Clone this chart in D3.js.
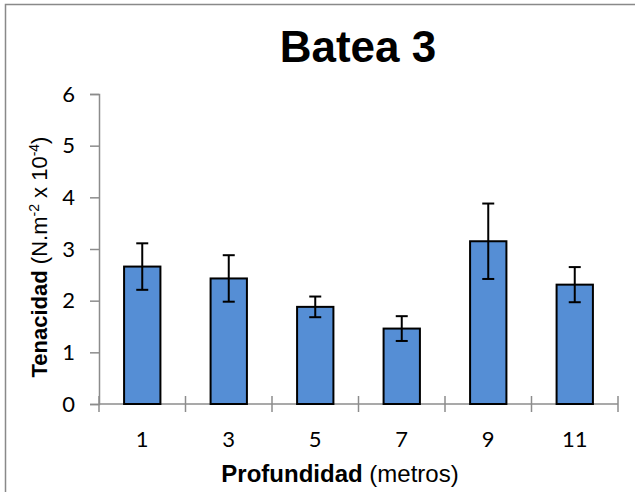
<!DOCTYPE html>
<html>
<head>
<meta charset="utf-8">
<script src="https://cdn.jsdelivr.net/npm/d3@7"></script>
<style>
  html, body { margin: 0; padding: 0; background: #fff; }
  svg { display: block; }
</style>
</head>
<body>
<div id="chart"></div>
<script>
const depths = ["1", "3", "5", "7", "9", "11"];
const means = [2.66, 2.43, 1.88, 1.46, 3.15, 2.31];
const errors = [0.45, 0.45, 0.2, 0.24, 0.73, 0.34];
const yTicks = [0, 1, 2, 3, 4, 5, 6];

const W = 635, H = 492;
const plot = { left: 99, right: 618, top: 94, bottom: 404 };

const svg = d3.select("#chart").append("svg")
    .attr("width", W)
    .attr("height", H);

// outer chart border (right/bottom fall outside the frame)
svg.append("rect")
    .attr("x", 5.5).attr("y", 4.5)
    .attr("width", W + 10).attr("height", H + 10)
    .attr("fill", "none")
    .attr("stroke", "#898989")
    .attr("stroke-width", 1.5);

const x = d3.scaleBand()
    .domain(depths)
    .range([plot.left, plot.right])
    .paddingInner(0.58)
    .paddingOuter(0.29);

const y = d3.scaleLinear()
    .domain([0, 6])
    .range([plot.bottom, plot.top]);

const axisColor = "#8c8c8c";
const tickFont = "Lato, 'Open Sans', sans-serif";
const labelFont = "'Liberation Sans', Arial, sans-serif";

// y axis
const yAxis = svg.append("g")
    .attr("transform", `translate(${plot.left},0)`)
    .call(d3.axisLeft(y).tickValues(yTicks).tickFormat(d3.format("d")).tickSize(9).tickPadding(15));
yAxis.select(".domain").attr("stroke", axisColor).attr("stroke-width", 1.5);
yAxis.selectAll(".tick line").attr("stroke", axisColor).attr("stroke-width", 1.5);
yAxis.selectAll(".tick text")
    .attr("font-family", tickFont)
    .attr("font-size", 22)
    .attr("fill", "#000");

// x axis: ticks at category boundaries, crossing the axis line
const step = x.step();
const bounds = d3.range(depths.length + 1).map(i => plot.left + i * step);
const xg = svg.append("g");
xg.append("line")
    .attr("x1", plot.left).attr("x2", plot.right)
    .attr("y1", plot.bottom).attr("y2", plot.bottom)
    .attr("stroke", axisColor).attr("stroke-width", 1.5);
xg.selectAll("line.tk")
    .data(bounds)
    .join("line")
    .attr("class", "tk")
    .attr("x1", d => d).attr("x2", d => d)
    .attr("y1", plot.bottom - 8).attr("y2", plot.bottom + 8)
    .attr("stroke", axisColor).attr("stroke-width", 1.5);
xg.selectAll("text")
    .data(depths)
    .join("text")
    .attr("x", d => x(d) + x.bandwidth() / 2)
    .attr("y", 447)
    .attr("text-anchor", "middle")
    .attr("font-family", tickFont)
    .attr("font-size", 22)
    .text(d => d);

// bars
svg.append("g")
    .selectAll("rect")
    .data(depths)
    .join("rect")
    .attr("x", d => x(d))
    .attr("y", (d, i) => y(means[i]))
    .attr("width", x.bandwidth())
    .attr("height", (d, i) => y(0) - y(means[i]))
    .attr("fill", "#558ed5")
    .attr("stroke", "#000")
    .attr("stroke-width", 2);

// error bars
const eb = svg.append("g")
    .attr("stroke", "#000")
    .attr("stroke-width", 2);
depths.forEach((d, i) => {
    const cx = x(d) + x.bandwidth() / 2;
    const hi = y(means[i] + errors[i]);
    const lo = y(means[i] - errors[i]);
    eb.append("line").attr("x1", cx).attr("x2", cx).attr("y1", hi).attr("y2", lo);
    eb.append("line").attr("x1", cx - 6).attr("x2", cx + 6).attr("y1", hi).attr("y2", hi);
    eb.append("line").attr("x1", cx - 6).attr("x2", cx + 6).attr("y1", lo).attr("y2", lo);
});

// title
svg.append("text")
    .attr("x", 358)
    .attr("y", 62)
    .attr("text-anchor", "middle")
    .attr("font-family", labelFont)
    .attr("font-weight", "bold")
    .attr("font-size", 44)
    .text("Batea 3");

// x axis title
const xt = svg.append("text")
    .attr("x", 340)
    .attr("y", 482)
    .attr("text-anchor", "middle")
    .attr("font-family", labelFont)
    .attr("font-size", 24);
xt.append("tspan").attr("font-weight", "bold").text("Profundidad");
xt.append("tspan").text(" (metros)");

// y axis title
const yt = svg.append("text")
    .attr("transform", `translate(47,257) rotate(-90)`)
    .attr("text-anchor", "middle")
    .attr("font-family", labelFont)
    .attr("font-size", 22);
yt.append("tspan").attr("font-weight", "bold").text("Tenacidad");
yt.append("tspan").text(" (N.m");
yt.append("tspan").attr("font-size", 14).attr("dy", -8).text("-2");
yt.append("tspan").attr("dy", 8).text(" x 10");
yt.append("tspan").attr("font-size", 14).attr("dy", -8).text("-4");
yt.append("tspan").attr("dy", 8).text(")");
</script>
</body>
</html>
